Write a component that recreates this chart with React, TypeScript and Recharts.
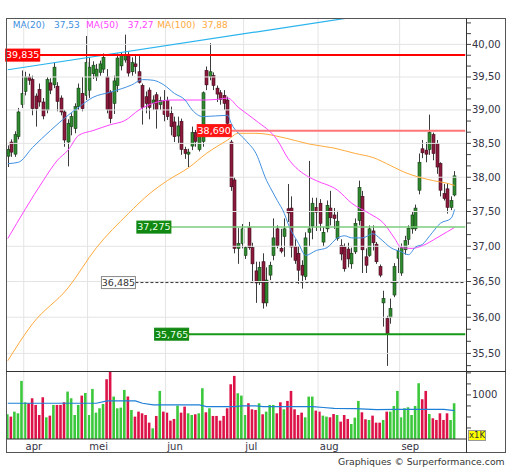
import React from 'react';
import { ComposedChart, Bar, Line, XAxis, YAxis, ReferenceLine, Cell } from 'recharts';

const FONT = '"DejaVu Sans", Verdana, sans-serif';

// ---------- data ----------
const months = ['apr', 'mei', 'jun', 'jul', 'aug', 'sep'];
const monthStarts = [5, 23, 45, 67, 88, 111];

// [open, high, low, close]
const ohlcMar: number[][] = [
  [38.31, 38.47, 38.15, 38.41], [38.52, 38.56, 38.30, 38.37], [38.34, 38.68, 38.30, 38.63],
  [38.60, 39.03, 38.56, 38.97], [39.08, 39.60, 39.03, 39.25],
];
const ohlcApr: number[][] = [
  [39.28, 39.58, 39.22, 39.50], [39.50, 39.55, 39.38, 39.45], [39.46, 39.52, 38.92, 39.02],
  [39.21, 39.25, 38.75, 39.02], [39.31, 39.40, 39.05, 39.12], [39.12, 39.18, 38.86, 38.91],
  [39.00, 39.50, 38.95, 39.46], [39.41, 39.48, 39.24, 39.30], [39.38, 39.72, 39.33, 39.65],
  [39.36, 39.42, 38.98, 39.13], [39.18, 39.22, 38.92, 38.97], [38.97, 39.00, 38.45, 38.55],
  [38.52, 38.86, 38.16, 38.80], [38.75, 38.95, 38.62, 38.90], [38.72, 39.10, 38.65, 39.05],
  [39.05, 39.40, 39.00, 39.33], [39.25, 39.50, 38.98, 39.02], [39.22, 40.13, 39.15, 39.72],
];
const ohlcMay: number[][] = [
  [39.30, 39.80, 39.18, 39.65], [39.55, 39.74, 39.47, 39.68], [39.50, 39.70, 39.44, 39.62],
  [39.57, 39.75, 39.52, 39.70], [39.62, 39.86, 39.56, 39.80], [39.50, 39.62, 38.95, 39.01],
  [39.27, 39.30, 38.80, 38.87], [39.10, 39.52, 38.94, 39.44], [39.37, 39.86, 39.27, 39.79],
  [39.67, 39.88, 39.60, 39.84], [39.76, 40.15, 39.72, 39.84], [39.84, 39.88, 39.50, 39.56],
  [39.58, 39.80, 39.52, 39.72], [39.70, 39.85, 39.55, 39.66], [39.58, 39.82, 39.40, 39.42],
  [39.37, 39.40, 38.78, 39.04], [39.20, 39.28, 38.95, 39.10], [39.30, 39.34, 38.86, 39.04],
  [39.10, 39.22, 39.00, 39.15], [39.23, 39.27, 38.72, 39.01], [39.08, 39.20, 39.00, 39.14],
  [39.14, 39.30, 38.83, 38.93],
];
const ohlcJun: number[][] = [
  [39.14, 39.20, 38.85, 38.90], [38.95, 39.05, 38.62, 38.75], [38.82, 38.90, 38.52, 38.60],
  [38.61, 38.90, 38.50, 38.76], [38.83, 38.87, 38.33, 38.41], [38.41, 38.45, 38.27, 38.35],
  [38.34, 38.42, 38.15, 38.37], [38.46, 38.75, 38.40, 38.66], [38.66, 38.70, 38.45, 38.53],
  [38.41, 38.78, 38.38, 38.73], [38.53, 39.28, 38.45, 39.26], [39.60, 39.66, 39.30, 39.38],
  [39.51, 40.02, 39.45, 39.58], [39.52, 39.57, 39.30, 39.37], [39.33, 39.37, 39.12, 39.24],
  [39.26, 39.30, 39.08, 39.16], [39.22, 39.30, 39.00, 39.10], [39.15, 39.20, 38.75, 38.80],
  [38.52, 38.55, 37.80, 37.86], [37.96, 38.00, 36.90, 36.97], [36.97, 37.26, 36.75, 37.04],
  [37.04, 37.32, 36.97, 37.25],
];
const ohlcJul: number[][] = [
  [36.87, 37.00, 36.82, 36.98], [37.27, 37.35, 36.95, 36.98], [36.98, 37.05, 36.50, 36.75],
  [36.65, 36.78, 36.20, 36.48], [36.49, 36.78, 36.45, 36.70], [36.78, 36.90, 36.12, 36.20],
  [36.20, 36.70, 36.15, 36.52], [36.59, 36.78, 36.52, 36.73], [36.87, 37.40, 36.80, 37.12],
  [37.25, 37.30, 36.97, 37.01], [36.97, 37.25, 36.90, 36.93], [37.14, 37.40, 36.85, 37.25],
  [37.54, 37.90, 37.35, 37.48], [37.55, 37.72, 36.84, 36.99], [37.00, 37.10, 36.75, 36.80],
  [36.90, 37.00, 36.47, 36.66], [36.73, 36.80, 36.40, 36.59], [36.57, 37.20, 36.52, 37.12],
  [37.20, 38.24, 37.00, 37.25], [37.29, 37.70, 37.10, 37.62], [37.56, 37.70, 37.22, 37.49],
];
const ohlcAug: number[][] = [
  [37.62, 37.68, 37.22, 37.33], [37.06, 37.28, 37.00, 37.20], [37.25, 37.66, 37.20, 37.59],
  [37.55, 37.80, 37.30, 37.41], [37.45, 37.55, 37.25, 37.40], [37.11, 37.51, 37.08, 37.36],
  [37.01, 37.10, 36.80, 36.89], [36.99, 37.04, 36.64, 36.68], [36.96, 37.05, 36.70, 36.82],
  [36.75, 36.98, 36.68, 36.90], [36.92, 37.40, 36.89, 37.33], [37.37, 37.95, 37.30, 37.85],
  [37.72, 37.80, 36.62, 36.95], [36.85, 36.97, 36.62, 36.73], [36.87, 37.30, 36.85, 37.25],
  [37.22, 37.30, 36.94, 37.05], [37.03, 37.06, 36.75, 36.78], [36.71, 36.74, 36.56, 36.59],
  [36.20, 36.37, 35.87, 36.26], [35.98, 36.02, 35.33, 35.77], [36.00, 36.26, 35.91, 36.12],
  [36.31, 36.76, 36.28, 36.71], [36.83, 36.98, 36.62, 36.94],
];
const ohlcSep: number[][] = [
  [36.62, 37.04, 36.58, 36.98], [36.95, 37.15, 36.88, 37.08], [37.10, 37.30, 37.02, 37.26],
  [37.25, 37.50, 37.18, 37.45], [37.25, 37.60, 37.22, 37.55], [37.81, 38.35, 37.75, 38.22],
  [38.42, 38.55, 38.28, 38.36], [38.40, 38.52, 38.22, 38.34], [38.41, 38.93, 38.33, 38.66],
  [38.63, 38.66, 38.25, 38.35], [38.50, 38.55, 38.05, 38.15], [38.20, 38.22, 37.72, 37.81],
  [37.76, 37.90, 37.66, 37.69], [37.83, 37.91, 37.47, 37.56], [37.56, 37.72, 37.52, 37.66],
  [37.74, 38.09, 37.72, 38.02],
];

// volume in thousands
const volMar = [561, 508, 621, 583, 1318];
const volApr = [833, 811, 924, 773, 545, 947, 492, 530, 773, 773, 773, 833, 1076, 924, 545, 773, 985, 1045];
const volMay = [545, 1136, 598, 697, 795, 1356, 1530, 962, 697, 712, 1114, 962, 659, 508, 621, 583, 545, 371, 242, 523, 1091, 621];
const volJun = [598, 417, 455, 758, 598, 735, 583, 545, 561, 583, 1152, 606, 697, 523, 523, 417, 523, 697, 1242, 1432, 1038, 985];
const volJul = [545, 811, 674, 659, 811, 561, 621, 773, 773, 583, 833, 674, 864, 1091, 674, 545, 598, 492, 962, 962, 644];
const volAug = [621, 530, 508, 492, 568, 545, 394, 545, 455, 341, 485, 864, 606, 447, 432, 530, 371, 371, 432, 621, 621, 750, 1091];
const volSep = [492, 697, 720, 545, 750, 1265, 902, 1091, 568, 470, 432, 583, 432, 583, 432, 811];

// moving averages: [candle index, value]
const ma20Points: number[][] = [
  [0, 38.2], [3, 38.22], [7, 38.44], [12, 38.69], [17, 38.92], [20, 39.04], [24, 39.19], [29, 39.27],
  [35, 39.38], [38, 39.46], [41, 39.45], [44, 39.38], [47, 39.25], [50, 39.15], [52, 39.0], [55, 38.9],
  [62, 38.92], [63, 38.8], [67, 38.55], [70, 38.35], [73, 37.95], [74, 37.85], [76, 37.66], [78, 37.47],
  [79, 37.33], [82, 37.04], [84, 36.87], [87, 36.94], [90, 36.98], [93, 37.12], [95, 37.15], [97, 37.12],
  [100, 37.12], [103, 37.18], [105, 37.11], [108, 36.98], [111, 36.92], [113, 36.88], [115, 36.99],
  [117, 37.03], [119, 37.15], [122, 37.33], [125, 37.4], [126, 37.53],
];
const ma50Points: number[][] = [
  [0, 37.11], [5, 37.54], [10, 37.95], [14, 38.25], [17, 38.4], [20, 38.62], [24, 38.69], [29, 38.78],
  [33, 38.84], [37, 39.0], [41, 39.1], [46, 39.15], [50, 39.15], [55, 39.15], [59, 39.16], [62, 39.18],
  [65, 39.04], [70, 38.84], [76, 38.55], [79, 38.28], [85, 38.0], [87, 37.95], [93, 37.81], [97, 37.62],
  [102, 37.47], [106, 37.33], [109, 37.12], [111, 36.98], [114, 36.97], [117, 37.01], [121, 37.12],
  [124, 37.21], [126, 37.27],
];
const ma100Points: number[][] = [
  [0, 35.4], [7, 35.91], [17, 36.41], [25, 36.98], [34, 37.47], [40, 37.76], [45, 37.95], [51, 38.14],
  [56, 38.35], [62, 38.55], [65, 38.65], [70, 38.65], [79, 38.57], [85, 38.49], [92, 38.43], [98, 38.35],
  [103, 38.29], [108, 38.17], [112, 38.07], [116, 38.0], [120, 37.95], [124, 37.91], [126, 37.88],
];
const volMaPoints: number[][] = [
  [0, 811], [25, 811], [28, 864], [36, 864], [38, 811], [41, 773], [54, 773], [56, 735], [64, 735],
  [66, 750], [70, 750], [72, 735], [86, 735], [89, 715], [92, 697], [98, 690], [104, 665], [110, 674],
  [123, 674], [126, 644],
];

const header = [
  { label: 'MA(20)', value: 37.53 },
  { label: 'MA(50)', value: 37.27 },
  { label: 'MA(100)', value: 37.88 },
];

const priceMajorTicks = [35.5, 36, 36.5, 37, 37.5, 38, 38.5, 39, 39.5, 40];
const volumeTicks = [250, 500, 750, 1000, 1250, 1500];
const volumeLabelTicks = [1000];

const levelPrices = [39.835, 38.69, 37.275, 36.485, 35.765];
const levelStartIdx = [9, 63, 46, 36, 51];
const trendStart = { i: 0, p: 39.61 };
const trendEnd = { i: 129, p: 40.69 };

const SLOTS = 130;
const PRICE_DOMAIN: [number, number] = [35.26, 40.41];
const VOL_DOMAIN: [number, number] = [0, 1520];

// ---------- build table ----------
const ohlc = [...ohlcMar, ...ohlcApr, ...ohlcMay, ...ohlcJun, ...ohlcJul, ...ohlcAug, ...ohlcSep];
const volumes = [...volMar, ...volApr, ...volMay, ...volJun, ...volJul, ...volAug, ...volSep];

type Row = {
  i: number; o?: number; h?: number; l?: number; c?: number; v?: number;
  ma20?: number; ma50?: number; ma100?: number; vma?: number;
};
const rows: Row[] = [];
for (let i = 0; i < SLOTS; i++) {
  const k = ohlc[i];
  rows.push(k ? { i, o: k[0], h: k[1], l: k[2], c: k[3], v: volumes[i] } : { i });
}
ma20Points.forEach(([i, v]) => { rows[i].ma20 = v; });
ma50Points.forEach(([i, v]) => { rows[i].ma50 = v; });
ma100Points.forEach(([i, v]) => { rows[i].ma100 = v; });
volMaPoints.forEach(([i, v]) => { rows[i].vma = v; });

const step = (priceMajorTicks[1] - priceMajorTicks[0]) / 3;
const priceTicks: number[] = [];
for (let t = priceMajorTicks[0] - step; t <= priceMajorTicks[priceMajorTicks.length - 1] + 2 * step + 1e-9; t += step) {
  priceTicks.push(Math.round(t * 10000) / 10000);
}
const isMajor = (t: number) => priceMajorTicks.some((m) => Math.abs(m - t) < 1e-6);
const fmt = (v: number, d: number) => v.toFixed(d).replace('.', ',');

// ---------- styles ----------
const UP_BODY = '#2f8a2f';
const UP_EDGE = '#163d16';
const DOWN_BODY = '#8c1a3e';
const DOWN_EDGE = '#3d0a1a';
const WICK = '#3c3c3c';
const UP_VOL = '#3cc83c';
const DOWN_VOL = '#dc1248';
const GRID = '#e4e4e4';
const AXIS_TEXT = '#333344';
const MA_COLORS = ['#4090e0', '#ff44ff', '#ffaa3c'];

const levelStyles = [
  { stroke: '#ff0000', width: 2, dash: undefined as string | undefined, box: '#ff0000', border: '#ff0000', text: '#ffffff' },
  { stroke: '#ff7676', width: 2, dash: undefined, box: '#ff1414', border: '#ff1414', text: '#ffffff' },
  { stroke: '#7ccc7c', width: 1.5, dash: undefined, box: '#118811', border: '#118811', text: '#e8ffe8' },
  { stroke: '#333333', width: 1, dash: '3 2', box: '#ffffff', border: '#888888', text: '#333333' },
  { stroke: '#169a16', width: 2, dash: undefined, box: '#118811', border: '#118811', text: '#e8ffe8' },
];

const Candle = (props: any) => {
  const { x, y, width, height, payload } = props;
  if (!payload || payload.h == null || !isFinite(y) || !isFinite(height)) return null;
  const { o, h, l, c } = payload;
  const lnH = Math.log(h);
  const lnL = Math.log(l);
  const span = lnH - lnL || 1e-9;
  const toY = (p: number) => y + (height * (lnH - Math.log(p))) / span;
  const cx = Math.round(x + width / 2) + 0.5;
  const up = c >= o;
  const top = toY(Math.max(o, c));
  const bot = toY(Math.min(o, c));
  return (
    <g>
      <line x1={cx} x2={cx} y1={y} y2={y + height} stroke={WICK} strokeWidth={1} />
      <rect x={cx - 1.5} y={top} width={3} height={Math.max(bot - top, 1)}
        fill={up ? UP_BODY : DOWN_BODY} stroke={up ? UP_EDGE : DOWN_EDGE} strokeWidth={0.6} />
    </g>
  );
};

const PriceTick = (props: any) => {
  const { x, y, payload } = props;
  const major = isMajor(payload.value);
  return (
    <g>
      <line x1={x} x2={x + 4} y1={y} y2={y} stroke="#444" strokeWidth={1} />
      {major && (
        <text x={x + 5} y={y} dy="0.35em" fontSize={10} fill={AXIS_TEXT} fontFamily={FONT}>
          {fmt(payload.value, 2)}
        </text>
      )}
    </g>
  );
};

const VolTick = (props: any) => {
  const { x, y, payload } = props;
  const show = volumeLabelTicks.includes(payload.value);
  return (
    <g>
      <line x1={x} x2={x + 4} y1={y} y2={y} stroke="#444" strokeWidth={1} />
      {show && (
        <text x={x + 5} y={y} dy="0.35em" fontSize={10} fill={AXIS_TEXT} fontFamily={FONT}>
          {String(payload.value)}
        </text>
      )}
    </g>
  );
};

const MonthTick = (props: any) => {
  const { x, y, payload } = props;
  const k = monthStarts.indexOf(payload.value);
  return (
    <text x={x} y={y + 11} fontSize={10} fill={AXIS_TEXT} fontFamily={FONT}>
      {k >= 0 ? months[k] : ''}
    </text>
  );
};

const LevelTag = ({ viewBox, text, st }: any) => {
  if (!viewBox) return null;
  const w = 34;
  const h = 12;
  const x = viewBox.x;
  const y = viewBox.y;
  return (
    <g>
      <rect x={x - w} y={y - h / 2} width={w} height={h} fill={st.box} stroke={st.border} strokeWidth={1} />
      <text x={x - w / 2} y={y} dy="0.35em" textAnchor="middle" fontSize={9.5} fill={st.text} fontFamily={FONT}>
        {text}
      </text>
    </g>
  );
};

const headerX = [12.7, 54, 86, 127.7, 157.3, 202];

export default function App() {
  return (
    <div style={{ position: 'absolute', left: 0, top: 0, width: 512, height: 470, background: '#fff', fontFamily: FONT, overflow: 'hidden' }}>
      <div style={{ position: 'absolute', left: 0, top: 0 }}>
        <ComposedChart width={512} height={470} data={rows} margin={{ top: 18, right: 6, bottom: 99, left: 6 }}>
          <XAxis dataKey="i" type="category" hide />
          <YAxis orientation="right" width={39} scale="log" domain={PRICE_DOMAIN} allowDataOverflow
            ticks={priceTicks} interval={0} tick={<PriceTick />} tickLine={false} tickSize={0} tickMargin={0} axisLine={false} />
          {priceMajorTicks.map((t) => (
            <ReferenceLine key={'hg' + t} y={t} stroke={GRID} strokeWidth={1} />
          ))}
          {monthStarts.map((s) => (
            <ReferenceLine key={'vg' + s} x={s} position="start" stroke={GRID} strokeWidth={1} />
          ))}
          <ReferenceLine segment={[{ x: trendStart.i, y: trendStart.p }, { x: trendEnd.i, y: trendEnd.p }]}
            stroke="#2ab4ee" strokeWidth={1.2} ifOverflow="hidden" />
          <Bar dataKey={(d: Row) => (d.h == null ? null : [d.l, d.h])} barSize={3} shape={<Candle />} isAnimationActive={false} />
          <Line dataKey="ma100" type="monotone" stroke={MA_COLORS[2]} strokeWidth={1} dot={false} connectNulls isAnimationActive={false} />
          <Line dataKey="ma50" type="monotone" stroke={MA_COLORS[1]} strokeWidth={1} dot={false} connectNulls isAnimationActive={false} />
          <Line dataKey="ma20" type="monotone" stroke={MA_COLORS[0]} strokeWidth={1} dot={false} connectNulls isAnimationActive={false} />
          {levelPrices.map((p, k) => {
            const st = levelStyles[k];
            const text = fmt(p, 3);
            return (
              <ReferenceLine key={'lvl' + k}
                segment={[{ x: levelStartIdx[k], y: p }, { x: SLOTS - 1, y: p }]}
                stroke={st.stroke} strokeWidth={st.width} strokeDasharray={st.dash} ifOverflow="visible"
                label={(lp: any) => <LevelTag viewBox={lp.viewBox} text={text} st={st} />} />
            );
          })}
        </ComposedChart>
      </div>

      <div style={{ position: 'absolute', left: 0, top: 0 }}>
        <ComposedChart width={512} height={470} data={rows} margin={{ top: 372, right: 6, bottom: 17, left: 6 }}>
          <XAxis dataKey="i" type="category" height={14} ticks={monthStarts} interval={0} tick={<MonthTick />}
            tickLine={false} tickSize={0} tickMargin={0} axisLine={{ stroke: '#333' }} />
          <YAxis orientation="right" width={39} domain={VOL_DOMAIN} allowDataOverflow ticks={volumeTicks} interval={0}
            tick={<VolTick />} tickLine={false} tickSize={0} tickMargin={0} axisLine={false} />
          {monthStarts.map((s) => (
            <ReferenceLine key={'vvg' + s} x={s} position="start" stroke={GRID} strokeWidth={1} />
          ))}
          <Bar dataKey="v" barSize={2.6} isAnimationActive={false}>
            {rows.map((r) => (
              <Cell key={'c' + r.i} fill={r.c != null && r.o != null && r.c >= r.o ? UP_VOL : DOWN_VOL} />
            ))}
          </Bar>
          <Line dataKey="vma" type="linear" stroke="#1e7fd6" strokeWidth={1.2} dot={false} connectNulls isAnimationActive={false} />
        </ComposedChart>
      </div>

      {/* frame */}
      <div style={{ position: 'absolute', left: 6, top: 18, width: 500, height: 435, border: '1px solid #555', boxSizing: 'border-box' }} />
      <div style={{ position: 'absolute', left: 6, top: 371, width: 500, height: 1, background: '#333' }} />
      <div style={{ position: 'absolute', left: 466, top: 18, width: 1, height: 435, background: '#333' }} />

      {/* header */}
      {header.map((hItem, k) => (
        <React.Fragment key={'h' + k}>
          <span style={{ position: 'absolute', left: headerX[2 * k], top: 20, fontSize: 9, lineHeight: '11px', color: MA_COLORS[k], whiteSpace: 'nowrap' }}>
            {hItem.label}
          </span>
          <span style={{ position: 'absolute', left: headerX[2 * k + 1], top: 20, fontSize: 9, lineHeight: '11px', color: MA_COLORS[k], whiteSpace: 'nowrap' }}>
            {fmt(hItem.value, 2)}
          </span>
        </React.Fragment>
      ))}

      {/* volume unit */}
      <div style={{ position: 'absolute', left: 468, top: 430, width: 18, height: 11, background: '#ffff00', border: '1px solid #999', boxSizing: 'border-box', fontSize: 8.5, lineHeight: '9px', color: '#333', textAlign: 'center' }}>
        x1K
      </div>

      {/* credit */}
      <div style={{ position: 'absolute', left: 338, top: 456, fontSize: 9.3, lineHeight: '11px', color: '#333', whiteSpace: 'nowrap' }}>
        Graphiques © Surperformance.com
      </div>
    </div>
  );
}
